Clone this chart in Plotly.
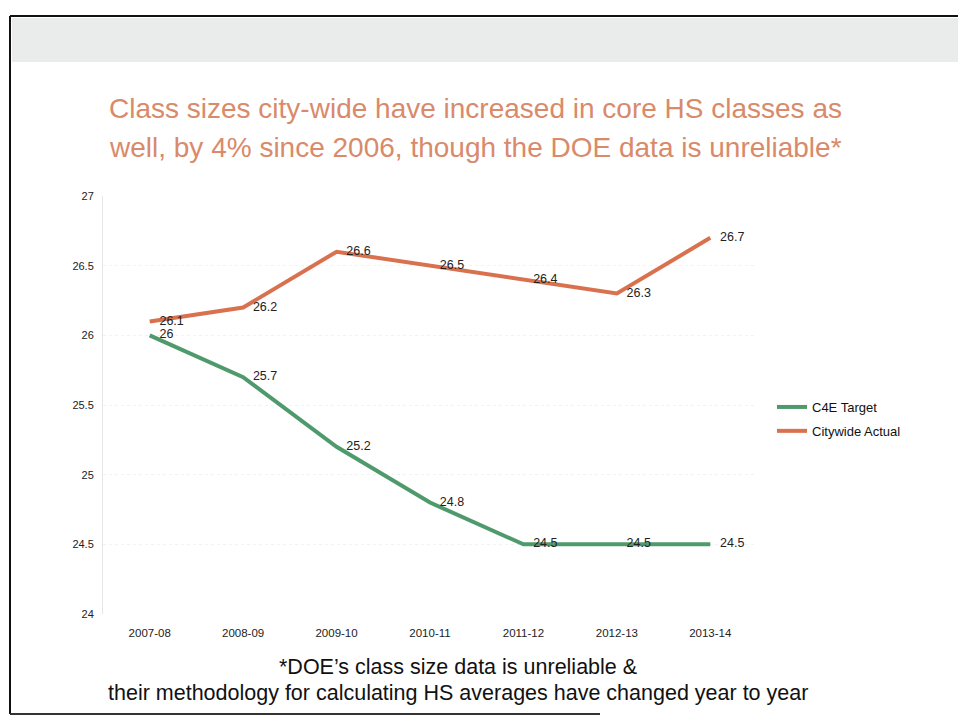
import plotly.graph_objects as go

years = ["2007-08", "2008-09", "2009-10", "2010-11", "2011-12", "2012-13", "2013-14"]
c4e_target = [26.0, 25.7, 25.2, 24.8, 24.5, 24.5, 24.5]
citywide_actual = [26.1, 26.2, 26.6, 26.5, 26.4, 26.3, 26.7]
y_ticks = [24, 24.5, 25, 25.5, 26, 26.5, 27]

OFF = 8  # page body margin
W, H = 966 - 2 * OFF, 727 - 2 * OFF
# plot area in page pixels
PX0, PX1, PY0, PY1 = 103, 757, 196, 614
L = PX0 - OFF
R = W - (PX1 - OFF)
T = PY0 - OFF
B = H - (PY1 - OFF)

green = "#4F9A6C"
orange = "#D9714F"
FONT = "Liberation Sans, Arial, sans-serif"

fig = go.Figure()
for name, vals, col in [("C4E Target", c4e_target, green),
                        ("Citywide Actual", citywide_actual, orange)]:
    fig.add_trace(go.Scatter(
        x=years, y=vals, name=name, mode="lines+markers+text",
        legendgroup=name,
        line=dict(color=col, width=4),
        marker=dict(size=14, color="rgba(0,0,0,0)", line=dict(width=0)),
        text=[f"{v:g}" for v in vals], textposition="middle right",
        textfont=dict(family=FONT, size=12.5, color="#222"),
    ))

pw = PX1 - PX0
ph = PY1 - PY0

def px(xp):
    return (xp - PX0) / pw

def py(yp):
    return (PY1 - yp) / ph

title_font = dict(family=FONT, size=28, color="#D98A6A")
note_font = dict(family=FONT, size=21.5, color="#111")
annotations = [
    dict(text="Class sizes city-wide have increased in core HS classes as",
         x=px(107), y=py(108), xref="paper", yref="paper", xanchor="left", yanchor="middle",
         showarrow=False, font=title_font),
    dict(text="well, by 4% since 2006, though the DOE data is unreliable*",
         x=px(107), y=py(147), xref="paper", yref="paper", xanchor="left", yanchor="middle",
         showarrow=False, font=title_font),
    dict(text="*DOE\u2019s class size data is unreliable &",
         x=px(458), y=py(667), xref="paper", yref="paper", xanchor="center", yanchor="middle",
         showarrow=False, font=note_font),
    dict(text="their methodology for calculating HS averages have changed year to year",
         x=px(458), y=py(693), xref="paper", yref="paper", xanchor="center", yanchor="middle",
         showarrow=False, font=note_font),
]

shapes = [
    dict(type="rect", xref="paper", yref="paper", x0=px(12), x1=px(966), y0=py(62), y1=py(18),
         fillcolor="#E6E8E8", line=dict(width=0), layer="below", opacity=0.85),
    dict(type="line", xref="paper", yref="paper", x0=px(10), x1=px(966), y0=py(16), y1=py(16),
         line=dict(color="#111", width=2)),
    dict(type="line", xref="paper", yref="paper", x0=px(10), x1=px(10), y0=py(16), y1=py(714),
         line=dict(color="#111", width=2)),
    dict(type="line", xref="paper", yref="paper", x0=px(10), x1=px(600), y0=py(714), y1=py(714),
         line=dict(color="#333", width=2)),
]

fig.update_layout(
    width=W, height=H,
    margin=dict(l=L, r=R, t=T, b=B),
    paper_bgcolor="white", plot_bgcolor="white",
    showlegend=True,
    legend=dict(x=px(772), y=py(392), xanchor="left", yanchor="top",
                font=dict(family=FONT, size=13, color="#111"),
                bgcolor="rgba(0,0,0,0)", tracegroupgap=4, traceorder="grouped"),
    xaxis=dict(type="category", range=[-0.5, 6.5], showgrid=False, showline=False,
               ticks="", ticklabelstandoff=10,
               tickfont=dict(family=FONT, size=11.5, color="#222")),
    yaxis=dict(range=[24, 27], tickvals=y_ticks, ticktext=[f"{v:g}" for v in y_ticks],
               showgrid=True, gridcolor="#F2F2F2", griddash="dot", zeroline=False,
               showline=True, linecolor="#E6E6E6", ticks="", ticklabelstandoff=6,
               tickfont=dict(family=FONT, size=11, color="#222")),
    annotations=annotations,
    shapes=shapes,
)

fig.write_html("out.html")
